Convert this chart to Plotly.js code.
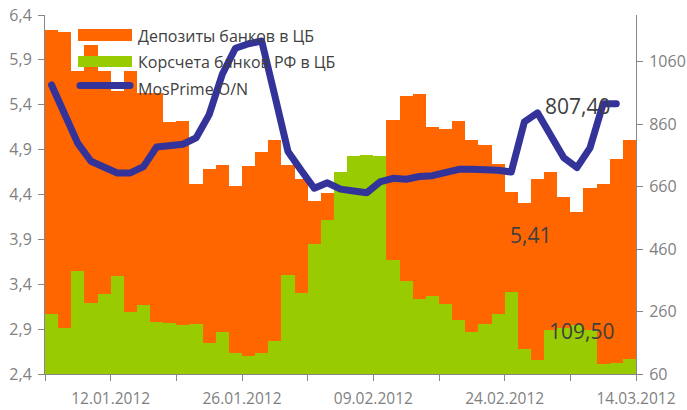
<!DOCTYPE html>
<html><head><meta charset="utf-8">
<script src="https://cdn.plot.ly/plotly-3.0.1.min.js"></script>
<style>html,body{margin:0;padding:0;background:#fff}</style>
</head><body><div id="chart" style="width:687px;height:410px"></div>
<script>
const dates = ['29.12.2011','30.12.2011','10.01.2012','11.01.2012','12.01.2012','13.01.2012','16.01.2012','17.01.2012','18.01.2012','19.01.2012',
  '20.01.2012','23.01.2012','24.01.2012','25.01.2012','26.01.2012','27.01.2012','30.01.2012','31.01.2012','01.02.2012','02.02.2012',
  '03.02.2012','06.02.2012','07.02.2012','08.02.2012','09.02.2012','10.02.2012','13.02.2012','14.02.2012','15.02.2012','16.02.2012',
  '17.02.2012','20.02.2012','21.02.2012','22.02.2012','24.02.2012','27.02.2012','28.02.2012','29.02.2012','01.03.2012','02.03.2012',
  '05.03.2012','06.03.2012','07.03.2012','13.03.2012','14.03.2012'];
const depositsCB = [1161,1154,1030,1113,1030,966,1030,959,959,866,870,668,716,729,662,726,770,809,729,684,614,639,650,700,720,700,873,950,956,850,844,870,809,793,732,642,607,684,706,626,578,655,668,748,807.4];
const corrAccounts = [252,208,390,288,316,374,259,281,226,223,217,220,160,194,127,119,127,166,377,320,477,553,706,758,761,758,425,358,300,310,284,234,195,220,252,322,140,105,201,207,217,201,93,95,109.5];
const mosPrimeON = [5.62,5.30,4.97,4.77,4.70,4.64,4.64,4.71,4.93,4.95,4.96,5.03,5.29,5.74,6.03,6.08,6.11,5.50,4.88,4.67,4.47,4.53,4.46,4.44,4.42,4.54,4.58,4.57,4.60,4.61,4.64,4.68,4.68,4.68,4.67,4.65,5.21,5.31,5.04,4.81,4.70,4.92,5.41,5.41,null];
const seriesNames = ['Депозиты банков в ЦБ','Корсчета банков РФ в ЦБ','MosPrime O/N'];
const leftTicks = [2.4,2.9,3.4,3.9,4.4,4.9,5.4,5.9,6.4];
const rightTicks = [60,260,460,660,860,1060];
const labelledDates = ['12.01.2012','26.01.2012','09.02.2012','24.02.2012','14.03.2012'];

const C_OR = '#FF6600', C_GR = '#99CC00', C_BL = '#333399';
const FONT = 'Open Sans, sans-serif';
const AX = '#868686', TXT = '#7f7f7f', DARK = '#404040';

const idx = dates.map((d, i) => i);
const boundaryTicks = [], boundaryText = [];
for (let i = 0; i <= dates.length; i += 5) {
  boundaryTicks.push(i - 0.5);
  const d = dates[i - 1];
  boundaryText.push(d && labelledDates.includes(d) ? d : '');
}
const lastValid = (arr) => { for (let i = arr.length - 1; i >= 0; i--) if (arr[i] != null) return arr[i]; };
const fmt = (v) => v.toFixed(2).replace('.', ',');

// plot area in pixels: x 45..636, y 15..374
const PX = (x) => (x - 45) / 591, PY = (y) => (374 - y) / 359;

const traces = [
  {type: 'bar', x: idx, y: depositsCB, name: seriesNames[0], marker: {color: C_OR, line: {width: 0}}, yaxis: 'y', hoverinfo: 'skip'},
  {type: 'bar', x: idx, y: corrAccounts, name: seriesNames[1], marker: {color: C_GR, line: {width: 0}}, yaxis: 'y', hoverinfo: 'skip'},
  {type: 'scatter', mode: 'lines', x: idx, y: mosPrimeON, name: seriesNames[2], line: {color: C_BL, width: 7}, yaxis: 'y2', hoverinfo: 'skip'}
];

const tickFont = {family: FONT, size: 16, color: TXT};
const layout = {
  width: 687, height: 410,
  margin: {l: 45, r: 51, t: 15, b: 36},
  paper_bgcolor: '#fff', plot_bgcolor: '#fff',
  showlegend: false,
  barmode: 'overlay', bargap: 0,
  separators: ', ',
  font: {family: FONT},
  xaxis: {range: [-0.5, dates.length - 0.5], tickmode: 'array', tickvals: boundaryTicks, ticktext: boundaryText,
    ticks: 'outside', ticklen: 6, tickcolor: AX, showline: true, linecolor: AX, linewidth: 1,
    showgrid: false, zeroline: false, tickfont: {family: FONT, size: 15.5, color: TXT}, ticklabelshift: -6.6, ticklabelstandoff: 4, fixedrange: true},
  yaxis: {side: 'right', range: [60, 1209], tickmode: 'array', tickvals: rightTicks, ticktext: rightTicks.map(String),
    ticks: 'outside', ticklen: 6, tickcolor: AX, showline: true, linecolor: AX, linewidth: 1,
    showgrid: false, zeroline: false, tickfont: tickFont, ticklabelstandoff: 3, fixedrange: true},
  yaxis2: {overlaying: 'y', side: 'left', range: [2.4, 6.4], tickmode: 'array', tickvals: leftTicks, tickformat: '.1f',
    ticks: 'outside', ticklen: 6, tickcolor: AX, showline: true, linecolor: AX, linewidth: 1,
    showgrid: false, zeroline: false, tickfont: tickFont, ticklabelstandoff: 3, fixedrange: true},
  yaxis3: {overlaying: 'y', side: 'right', range: [60, 1209], tickmode: 'array', tickvals: rightTicks,
    ticks: 'inside', ticklen: 6, tickcolor: AX, showticklabels: false, showline: false, showgrid: false, zeroline: false},
  yaxis4: {overlaying: 'y', side: 'left', range: [2.4, 6.4], tickmode: 'array', tickvals: leftTicks,
    ticks: 'inside', ticklen: 6, tickcolor: AX, showticklabels: false, showline: false, showgrid: false, zeroline: false},
  shapes: [
    {type: 'rect', xref: 'paper', yref: 'paper', x0: PX(78), x1: PX(132), y0: PY(41), y1: PY(29), fillcolor: C_OR, line: {width: 0}},
    {type: 'rect', xref: 'paper', yref: 'paper', x0: PX(78), x1: PX(132), y0: PY(67), y1: PY(56), fillcolor: C_GR, line: {width: 0}},
    {type: 'line', xref: 'paper', yref: 'paper', x0: PX(80), x1: PX(130), y0: PY(85.5), y1: PY(85.5), line: {color: C_BL, width: 7}}
  ],
  annotations: [
    {xref: 'paper', yref: 'paper', x: PX(136), y: PY(36), xanchor: 'left', yanchor: 'middle', showarrow: false, text: seriesNames[0], font: {family: FONT, size: 16, color: DARK}},
    {xref: 'paper', yref: 'paper', x: PX(136), y: PY(62), xanchor: 'left', yanchor: 'middle', showarrow: false, text: seriesNames[1], font: {family: FONT, size: 16, color: DARK}},
    {xref: 'paper', yref: 'paper', x: PX(136), y: PY(89), xanchor: 'left', yanchor: 'middle', showarrow: false, text: seriesNames[2], font: {family: FONT, size: 16, color: DARK}},
    {xref: 'paper', yref: 'paper', x: PX(577), y: PY(106), xanchor: 'center', yanchor: 'middle', showarrow: false, text: fmt(lastValid(depositsCB)), font: {family: FONT, size: 21, color: DARK}},
    {xref: 'paper', yref: 'paper', x: PX(530), y: PY(235), xanchor: 'center', yanchor: 'middle', showarrow: false, text: fmt(lastValid(mosPrimeON)), font: {family: FONT, size: 21, color: DARK}},
    {xref: 'paper', yref: 'paper', x: PX(581), y: PY(331), xanchor: 'center', yanchor: 'middle', showarrow: false, text: fmt(lastValid(corrAccounts)), font: {family: FONT, size: 21, color: DARK}}
  ]
};

Plotly.newPlot('chart', traces, layout, {displayModeBar: false, staticPlot: true}).then(() => {
  document.querySelectorAll('#chart .scatterlayer path.js-line').forEach(p => {
    p.style.strokeLinecap = 'round';
    p.style.strokeLinejoin = 'round';
  });
  document.querySelectorAll('#chart .shapelayer path').forEach(p => {
    p.style.strokeLinecap = 'round';
  });
});
</script></body></html>
